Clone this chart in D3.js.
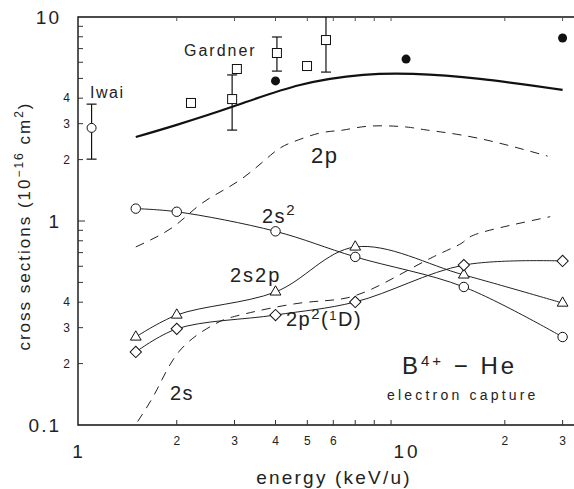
<!DOCTYPE html>
<head>
  <meta charset="utf-8" />
  <title>B4+ - He electron capture</title>
  <script src="https://d3js.org/d3.v7.min.js"></script>
  <style>
    body { margin: 0; background: #fff; }
    text { font-family: "Liberation Sans", Arial, sans-serif; fill: #222; }
  </style>
</head>
<body>
<script>
  // values (energy in keV/u, cross sections in 1e-16 cm^2)
  const energy = [1.5, 2, 4, 7, 15, 30];
  const s2 = [1.15, 1.11, 0.89, 0.667, 0.475, 0.27];
  const s2p = [0.27, 0.346, 0.449, 0.746, 0.544, 0.396];
  const p2D = [0.228, 0.296, 0.346, 0.401, 0.608, 0.637];

  const totalE = [1.5, 2, 3, 4.75, 7.4, 10.5, 16.8, 30];
  const totalV = [2.58, 2.96, 3.66, 4.64, 5.2, 5.26, 4.97, 4.39];

  const p2E = [1.5, 1.95, 2.4, 3.12, 3.93, 4.52, 5.47, 6.42, 7.78, 10, 11.6, 16.5, 27];
  const p2V = [0.746, 0.935, 1.23, 1.59, 2.15, 2.44, 2.7, 2.79, 2.92, 2.89, 2.79, 2.55, 2.08];

  const s2sE = [1.52, 1.74, 2.05, 2.58, 3.12, 4.75, 6.61, 8.93, 12.1, 14.8, 16.8, 27.5];
  const s2sV = [0.104, 0.149, 0.233, 0.309, 0.346, 0.396, 0.42, 0.514, 0.667, 0.78, 0.874, 1.05];

  const iwaiE = [1.1], iwaiV = [2.86], iwaiLo = [2.01], iwaiHi = [3.74];
  const gardnerE = [2.21, 2.95, 3.05, 4.04, 4.99, 5.7];
  const gardnerV = [3.79, 3.96, 5.56, 6.66, 5.75, 7.71];
  const gardnerLo = [null, 2.79, null, 5.43, null, 5.37];
  const gardnerHi = [null, 5.2, null, 7.98, null, 10];
  const filledE = [4, 10, 30];
  const filledV = [4.86, 6.22, 7.89];

  const xMinor = [2, 3, 4, 5, 6, 7, 8, 9, 20, 30];
  const yMinor = [0.2, 0.3, 0.4, 0.5, 0.6, 0.7, 0.8, 0.9, 2, 3, 4, 5, 6, 7, 8, 9];
  const xSmallLabels = [[2, "2"], [3, "3"], [4, "4"], [5, "5"], [6, "6"], [20, "2"], [30, "3"]];
  const xBigLabels = [[1, "1"], [10, "10"]];
  const ySmallLabels = [[4, "4"], [3, "3"], [2, "2"], [0.4, "4"], [0.3, "3"], [0.2, "2"]];
  const yBigLabels = [[10, "10"], [1, "1"], [0.1, "0.1"]];

  const width = 574, height = 489;
  const x = d3.scaleLog().domain([1, 32.5]).range([78, 574]);
  const y = d3.scaleLog().domain([0.1, 10]).range([425, 17]);

  const svg = d3.select("body").append("svg")
    .attr("width", width).attr("height", height);

  // frame
  svg.append("path")
    .attr("d", `M${x.range()[1]},${y(10)}H${x(1)}V${y(0.1)}H${x.range()[1]}`)
    .attr("fill", "none").attr("stroke", "#111").attr("stroke-width", 1.4);

  svg.append("g").selectAll("line").data(xMinor).join("line")
    .attr("x1", d => x(d)).attr("x2", d => x(d))
    .attr("y1", y(0.1)).attr("y2", y(0.1) - 5)
    .attr("stroke", "#333");
  svg.append("g").selectAll("line").data(xMinor).join("line")
    .attr("x1", d => x(d)).attr("x2", d => x(d))
    .attr("y1", y(10)).attr("y2", y(10) + 4)
    .attr("stroke", "#555");
  svg.append("g").selectAll("line").data(yMinor.concat([1])).join("line")
    .attr("x1", x(1)).attr("x2", d => x(1) + (d === 1 ? 7 : 5))
    .attr("y1", d => y(d)).attr("y2", d => y(d))
    .attr("stroke", "#333");

  // tick labels
  svg.append("g").selectAll("text").data(xSmallLabels).join("text")
    .attr("x", d => x(d[0])).attr("y", 445)
    .attr("text-anchor", "middle").attr("font-size", 12)
    .text(d => d[1]);
  svg.append("g").selectAll("text").data(xBigLabels).join("text")
    .attr("x", d => x(d[0]) + 1).attr("y", 458)
    .attr("text-anchor", "middle").attr("font-size", 19)
    .attr("letter-spacing", 3)
    .text(d => d[1]);
  svg.append("g").selectAll("text").data(ySmallLabels).join("text")
    .attr("x", 70).attr("y", d => y(d[0]) + 4)
    .attr("text-anchor", "end").attr("font-size", 12)
    .text(d => d[1]);
  svg.append("g").selectAll("text").data(yBigLabels).join("text")
    .attr("x", 61).attr("y", d => y(d[0]) + 7)
    .attr("text-anchor", "end").attr("font-size", 19)
    .attr("letter-spacing", 2)
    .text(d => d[1]);

  // axis titles
  svg.append("text")
    .attr("x", 334).attr("y", 484)
    .attr("text-anchor", "middle").attr("font-size", 19)
    .attr("letter-spacing", 2.2)
    .text("energy (keV/u)");

  const yt = svg.append("text")
    .attr("transform", "translate(30,226) rotate(-90)")
    .attr("text-anchor", "middle").attr("font-size", 17)
    .attr("letter-spacing", 2);
  yt.append("tspan").text("cross sections (10");
  yt.append("tspan").attr("font-size", 12).attr("dy", -7).text("−16");
  yt.append("tspan").attr("dy", 7).text(" cm");
  yt.append("tspan").attr("font-size", 12).attr("dy", -7).text("2");
  yt.append("tspan").attr("dy", 7).text(")");

  const line = d3.line().x(d => x(d[0])).y(d => y(d[1]));

  // total (thick)
  svg.append("path")
    .datum(d3.zip(totalE, totalV))
    .attr("d", line.curve(d3.curveNatural))
    .attr("fill", "none").attr("stroke", "#111").attr("stroke-width", 2.2);

  // dashed 2p and 2s
  [[p2E, p2V], [s2sE, s2sV]].forEach(([e, v]) => {
    svg.append("path")
      .datum(d3.zip(e, v))
      .attr("d", line.curve(d3.curveNatural))
      .attr("fill", "none").attr("stroke", "#222").attr("stroke-width", 1)
      .attr("stroke-dasharray", "9,7");
  });

  // thin curves with markers
  const series = [
    { v: s2, sym: d3.symbolCircle, size: 70, rot: 0 },
    { v: s2p, sym: d3.symbolTriangle, size: 50, rot: 0 },
    { v: p2D, sym: d3.symbolSquare, size: 64, rot: 45 }
  ];
  series.forEach(s => {
    const pts = d3.zip(energy, s.v);
    svg.append("path")
      .datum(pts)
      .attr("d", line.curve(d3.curveCatmullRom))
      .attr("fill", "none").attr("stroke", "#222").attr("stroke-width", 1);
    svg.append("g").selectAll("path").data(pts).join("path")
      .attr("transform", d => `translate(${x(d[0])},${y(d[1])}) rotate(${s.rot})`)
      .attr("d", d3.symbol(s.sym, s.size))
      .attr("fill", "#fff").attr("stroke", "#111").attr("stroke-width", 1);
  });

  // error bars
  const errs = d3.zip(iwaiE, iwaiLo, iwaiHi).concat(d3.zip(gardnerE, gardnerLo, gardnerHi))
    .filter(d => d[1] !== null);
  const eb = svg.append("g").attr("stroke", "#111").attr("stroke-width", 1.2);
  errs.forEach(([e, lo, hi]) => {
    eb.append("line").attr("x1", x(e)).attr("x2", x(e)).attr("y1", y(lo)).attr("y2", y(hi));
    eb.append("line").attr("x1", x(e) - 5).attr("x2", x(e) + 5).attr("y1", y(lo)).attr("y2", y(lo));
    if (hi < 10) eb.append("line").attr("x1", x(e) - 5).attr("x2", x(e) + 5).attr("y1", y(hi)).attr("y2", y(hi));
  });

  // experimental points
  svg.append("g").selectAll("circle").data(d3.zip(iwaiE, iwaiV)).join("circle")
    .attr("cx", d => x(d[0])).attr("cy", d => y(d[1])).attr("r", 4.5)
    .attr("fill", "#fff").attr("stroke", "#111");
  svg.append("g").selectAll("rect").data(d3.zip(gardnerE, gardnerV)).join("rect")
    .attr("x", d => x(d[0]) - 4.5).attr("y", d => y(d[1]) - 4.5)
    .attr("width", 9).attr("height", 9)
    .attr("fill", "#fff").attr("stroke", "#111");
  svg.append("g").selectAll("circle").data(d3.zip(filledE, filledV)).join("circle")
    .attr("cx", d => x(d[0])).attr("cy", d => y(d[1])).attr("r", 4.5)
    .attr("fill", "#111");

  // labels
  const label = (px, py, size) => svg.append("text")
    .attr("x", px).attr("y", py).attr("font-size", size).attr("letter-spacing", 1.5);
  label(90, 98, 16).text("Iwai");
  label(184, 56, 16).attr("letter-spacing", 2).text("Gardner");
  label(311, 163, 22).text("2p");
  const l1 = label(262, 223, 20);
  l1.append("tspan").text("2s");
  l1.append("tspan").attr("font-size", 15).attr("dy", -8).text("2");
  label(230, 282, 20).attr("letter-spacing", 2).text("2s2p");
  const l2 = label(286, 326, 20);
  l2.append("tspan").text("2p");
  l2.append("tspan").attr("font-size", 15).attr("dy", -7).text("2");
  l2.append("tspan").attr("dy", 7).text("(");
  l2.append("tspan").attr("font-size", 13).attr("dy", -6).text("1");
  l2.append("tspan").attr("dy", 6).text("D)");
  label(170, 400, 20).text("2s");
  const l3 = label(402, 374, 24).attr("letter-spacing", 3);
  l3.append("tspan").text("B");
  l3.append("tspan").attr("font-size", 15).attr("dy", -8).text("4+");
  l3.append("tspan").attr("dy", 8).text(" − He");
  label(387, 400, 14).attr("letter-spacing", 3.2).text("electron capture");
</script>
</body>
